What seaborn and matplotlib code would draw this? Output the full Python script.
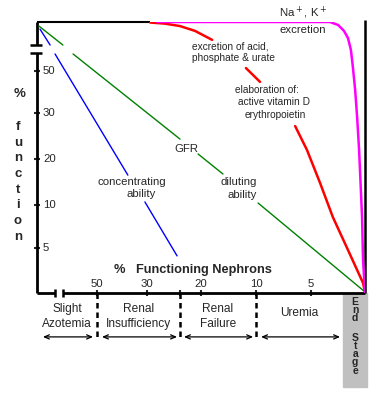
import numpy as np
import pandas as pd
import matplotlib
matplotlib.use("Agg")
import matplotlib.pyplot as plt
import seaborn as sns

# ---- data (x: position along "% functioning nephrons", 0 = 100 %, 100 = 0 %;
#            y: position along "% function", 0 = bottom, 100 = top; NaN = gap)
conc_x = [0.9, 4.0, np.nan, 5.5, 27.7, np.nan, 32.9, 42.7]
conc_y = [97.4, 91.5, np.nan, 88.2, 43.5, np.nan, 33.6, 13.7]

gfr_x = [0.6, 7.9, np.nan, 11.0, 43.6, np.nan, 49.1, 56.7, np.nan, 67.4, 100.0]
gfr_y = [98.5, 91.5, np.nan, 88.2, 56.8, np.nan, 51.3, 43.9, np.nan, 33.2, 0.4]

acid_x = [34.5, 39.0, 43.6, 48.2, 53.4, np.nan, 63.7, 68.0, np.nan,
          78.7, 82.3, 86.3, 90.2, 94.8, 99.4, 100.0]
acid_y = [99.8, 99.4, 98.5, 96.7, 93.4, np.nan, 83.0, 77.9, np.nan,
          61.6, 52.8, 40.6, 28.0, 15.9, 3.7, 0.4]

na_x = [36.6, 89.3, 91.8, 93.6, 94.8, 95.7, 96.3, 97.0, 97.6, 98.2, 99.1, 99.4, 100.0]
na_y = [100.0, 100.0, 98.9, 96.7, 94.1, 89.7, 83.4, 74.9, 64.9, 52.8, 28.0, 12.2, 0.4]

nephron_labels = ["50", "30", "20", "10", "5"]
nephron_pos = [18.3, 33.5, 50.0, 66.8, 83.5]
function_labels = ["50", "30", "20", "10", "5"]
function_pos = [81.9, 66.4, 49.4, 32.5, 16.6]

stage_names = ["Slight\nAzotemia", "Renal\nInsufficiency", "Renal\nFailure", "Uremia"]
stage_bounds = [0.0, 18.3, 43.6, 66.8, 93.3]
end_stage_right = 100.6


def to_frame(xs, ys, name):
    seg, rows = 0, []
    for x, y in zip(xs, ys):
        if np.isnan(x):
            seg += 1
            continue
        rows.append((x, y, name, f"{name}{seg}"))
    return pd.DataFrame(rows, columns=["x", "y", "curve", "seg"])


sns.set_style("white")
plt.rcParams["font.family"] = ["Liberation Sans", "DejaVu Sans"]

W, H = 385, 393
fig = plt.figure(figsize=(W / 100, H / 100), dpi=100)
ax = fig.add_axes([37 / W, 100 / H, 328 / W, 271 / H])
ax.set_xlim(0, 100)
ax.set_ylim(0, 100)
for s in ax.spines.values():
    s.set_visible(False)

curves = [
    (conc_x, conc_y, "conc", "#0000FF", 1.0),
    (gfr_x, gfr_y, "gfr", "#008000", 1.0),
    (acid_x, acid_y, "acid", "#FF0000", 1.8),
    (na_x, na_y, "na", "#FF00FF", 1.8),
]
for xs, ys, name, col, lw in curves:
    df = to_frame(xs, ys, name)
    sns.lineplot(data=df, x="x", y="y", units="seg", estimator=None,
                 color=col, lw=lw, ax=ax, legend=False, sort=False, zorder=3)

ax.set_xlabel("")
ax.set_ylabel("")

# axis frame with breaks
k = dict(color="black", clip_on=False, solid_capstyle="butt", zorder=2)
ax.plot([0, 0], [0, 88.6], lw=2.0, **k)
ax.plot([0, 0], [91.5, 100], lw=2.0, **k)
ax.plot([0, 5.5], [0, 0], lw=2.0, **k)
ax.plot([7.9, 100], [0, 0], lw=2.0, **k)
ax.plot([0, 34.5], [100, 100], lw=1.5, **k)
ax.plot([100, 100], [0, 100.7], lw=1.8, **k)
for yb in (88.6, 91.5):
    ax.plot([-2.1, 1.5], [yb, yb], lw=1.8, **k)
for xb in (5.5, 7.9):
    ax.plot([xb, xb], [-1.3, 1.5], lw=1.8, **k)

# ticks
ax.set_yticks(function_pos)
ax.set_xticks(nephron_pos + [stage_bounds[2]])
ax.tick_params(axis="both", direction="inout", length=5, width=1.5,
               labelleft=False, labelbottom=False, left=True, bottom=True)

fs = 8.2
sfs = 7.3
for lab, p in zip(function_labels, function_pos):
    ax.text(1.8, p, lab, ha="left", va="center", fontsize=fs)
for lab, p in zip(nephron_labels, nephron_pos):
    ax.text(p, 3.3, lab, ha="center", va="center", fontsize=fs)

ax.text(47.6, 8.5, "%   Functioning Nephrons", ha="center", va="center",
        fontsize=9.2, fontweight="bold")

# y axis title
ax.text(-5.2, 73.5, "%", ha="center", va="center", fontsize=9.5, fontweight="bold", clip_on=False)
for i, ch in enumerate("function"):
    ax.text(-5.8, 61.3 - i * 5.8, ch, ha="center", va="center", fontsize=9.5,
            fontweight="bold", clip_on=False)

# curve annotations
ax.text(81.1, 103.3, "Na$^+$, K$^+$", ha="center", va="center", fontsize=fs, clip_on=False)
ax.text(81.1, 97.2, "excretion", ha="center", va="center", fontsize=fs)
ax.text(47.3, 91.1, "excretion of acid,", ha="left", va="center", fontsize=sfs)
ax.text(47.3, 86.7, "phosphate & urate", ha="left", va="center", fontsize=sfs)
ax.text(70.1, 74.9, "elaboration of:", ha="center", va="center", fontsize=sfs)
ax.text(72.3, 70.5, "active vitamin D", ha="center", va="center", fontsize=sfs)
ax.text(72.7, 65.7, "erythropoietin", ha="center", va="center", fontsize=sfs)
ax.text(45.4, 53.3, "GFR", ha="center", va="center", fontsize=fs)
ax.text(28.8, 41.0, "concentrating", ha="center", va="center", fontsize=fs)
ax.text(31.7, 36.4, "ability", ha="center", va="center", fontsize=fs)
ax.text(61.6, 41.0, "diluting", ha="center", va="center", fontsize=fs)
ax.text(62.7, 36.2, "ability", ha="center", va="center", fontsize=fs)

# stages below axis
for name, a, b in zip(stage_names, stage_bounds[:-1], stage_bounds[1:]):
    ax.text((a + b) / 2, -8.6 if "\n" in name else -7.4, name, ha="center", va="center",
            fontsize=8.6, linespacing=1.3, clip_on=False)
for xb in stage_bounds[1:4]:
    ax.plot([xb, xb], [0, -17.5], color="black", lw=1.8, ls=(0, (2.2, 1.6)), clip_on=False)

arrow_spans = [(1.8, 17.1), (19.8, 42.7), (44.8, 65.9), (68.3, 92.4)]
for a, b in arrow_spans:
    ax.annotate("", xy=(b, -16.2), xytext=(a, -16.2), annotation_clip=False,
                arrowprops=dict(arrowstyle="<->,head_length=0.35,head_width=0.15",
                                lw=0.9, color="black", shrinkA=0, shrinkB=0))

ax.add_patch(plt.Rectangle((stage_bounds[4], -34.7), end_stage_right - stage_bounds[4], 34.7,
                           color="#C0C0C0", clip_on=False, zorder=1))
ax.text(97.0, -1.3, "\n".join("End"), ha="center", va="top", fontsize=7.5,
        fontweight="bold", linespacing=0.78, clip_on=False)
ax.text(97.0, -14.6, "\n".join("Stage"), ha="center", va="top", fontsize=7.5,
        fontweight="bold", linespacing=0.78, clip_on=False)

fig.savefig("out.png", dpi=100, facecolor="white")
